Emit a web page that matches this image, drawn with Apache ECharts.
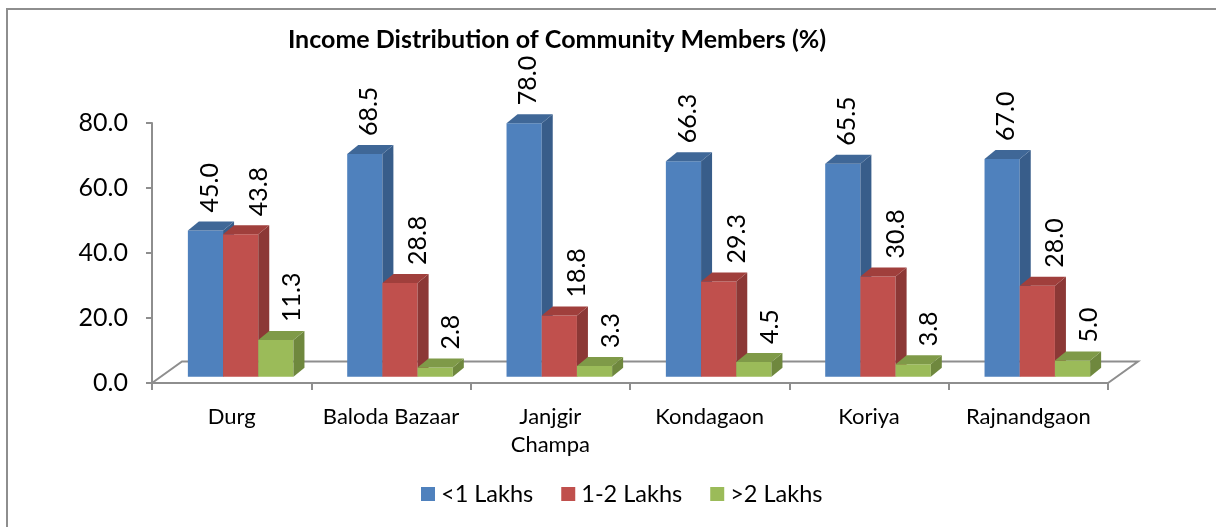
<!DOCTYPE html>
<html>
<head>
<meta charset="utf-8">
<script src="https://cdn.jsdelivr.net/npm/echarts@6/dist/echarts.min.js"></script>
<style>
html,body{margin:0;padding:0;background:#fff;}
#chart{width:1216px;height:527px;}
</style>
</head>
<body>
<div id="chart"></div>
<script>
// ---- data ----
const categories = ['Durg', 'Baloda Bazaar', 'Janjgir\nChampa', 'Kondagaon', 'Koriya', 'Rajnandgaon'];
const seriesNames = ['<1 Lakhs', '1-2 Lakhs', '>2 Lakhs'];
const below1Lakh = [45.0, 68.5, 78.0, 66.3, 65.5, 67.0];
const from1to2Lakh = [43.8, 28.8, 18.8, 29.3, 30.8, 28.0];
const above2Lakh = [11.3, 2.8, 3.3, 4.5, 3.8, 5.0];
const yMin = 0, yMax = 80, yInterval = 20;
const titleText = 'Income Distribution of Community Members (%)';

// ---- style ----
const FONT = 'Lato, "Open Sans", sans-serif';
const AXIS_GRAY = '#8e8e8e';
const palette = [
  {front: '#4F81BD', side: '#385D8A', top: '#3F6797'},
  {front: '#C0504D', side: '#8C3836', top: '#A03F3C'},
  {front: '#9BBB59', side: '#6F883E', top: '#7F9A48'}
];
const labelNudge = [2, 16, 14];
const BAR_W = 35.2, SHIFT_X = 9, SHIFT_Y = 6.3, DEPTH_X = 11, DEPTH_Y = 9;
const FLOOR_DX = 30, FLOOR_DY = 21.5;

const seriesValues = [below1Lakh, from1to2Lakh, above2Lakh];

function makeBarSeries(k) {
  const c = palette[k];
  return {
    name: seriesNames[k],
    type: 'custom',
    coordinateSystem: 'cartesian2d',
    itemStyle: {color: c.front},
    encode: {x: 0, y: 1},
    data: seriesValues[k].map((v, i) => [i, v]),
    z: 3,
    renderItem: function (params, api) {
      const i = api.value(0), v = api.value(1);
      const base = api.coord([i, 0]);
      const topP = api.coord([i, v]);
      const x0 = base[0] + SHIFT_X - 1.5 * BAR_W + k * BAR_W;
      const x1 = x0 + BAR_W;
      const yb = base[1] - SHIFT_Y;
      const yt = topP[1] - SHIFT_Y;
      return {
        type: 'group',
        children: [
          {type: 'polygon', shape: {points: [[x0, yb], [x1, yb], [x1, yt], [x0, yt]]}, style: {fill: c.front}},
          {type: 'polygon', shape: {points: [[x1, yb], [x1 + DEPTH_X, yb - DEPTH_Y], [x1 + DEPTH_X, yt - DEPTH_Y], [x1, yt]]}, style: {fill: c.side}},
          {type: 'polygon', shape: {points: [[x0, yt], [x0 + DEPTH_X, yt - DEPTH_Y], [x1 + DEPTH_X, yt - DEPTH_Y], [x1, yt]]}, style: {fill: c.top}},
          {type: 'text', x: (x0 + x1) / 2 + labelNudge[k] + 2, y: yt - 18, rotation: Math.PI / 2,
            style: {text: v.toFixed(1), fill: '#000', fontSize: 25, fontFamily: FONT, align: 'left', verticalAlign: 'middle'}}
        ]
      };
    }
  };
}

const chart = echarts.init(document.getElementById('chart'), null, {renderer: 'canvas'});
chart.setOption({
  backgroundColor: '#fff',
  animation: false,
  title: {
    text: titleText, left: 552, top: 22, textAlign: 'center',
    textStyle: {fontFamily: FONT, fontWeight: 'bold', fontSize: 25, color: '#000'}
  },
  legend: {
    data: seriesNames.map(n => ({name: n, icon: 'rect'})),
    left: 416, top: 477,
    itemWidth: 14, itemHeight: 14, itemGap: 28,
    textStyle: {fontFamily: FONT, fontSize: 23.5, color: '#000', padding: [0, 0, 0, 1]}
  },
  grid: {left: 152, right: 108, top: 123, bottom: 144, containLabel: false},
  xAxis: {
    type: 'category', data: categories, boundaryGap: true,
    axisLine: {show: true, lineStyle: {color: AXIS_GRAY, width: 2}},
    axisTick: {show: true, length: 7, lineStyle: {color: AXIS_GRAY, width: 2}},
    axisLabel: {fontFamily: FONT, fontSize: 22, color: '#000', margin: 20, lineHeight: 28, interval: 0}
  },
  yAxis: {
    type: 'value', min: yMin, max: yMax, interval: yInterval,
    axisLine: {show: true, lineStyle: {color: AXIS_GRAY, width: 2}},
    axisTick: {show: true, length: 6, lineStyle: {color: AXIS_GRAY, width: 2}},
    splitLine: {show: false},
    axisLabel: {fontFamily: FONT, fontSize: 25, color: '#000', margin: 24, formatter: v => v.toFixed(1)}
  },
  graphic: [{
    type: 'rect', shape: {x: 7, y: 9, width: 1300, height: 700},
    style: {fill: null, stroke: AXIS_GRAY, lineWidth: 2}, silent: true
  }],
  series: [
    {
      name: 'floor', type: 'custom', coordinateSystem: 'cartesian2d', silent: true, z: 1,
      data: [[0, 0]], encode: {x: 0, y: 1},
      renderItem: function (params, api) {
        const cs = params.coordSys;
        const yf = cs.y + cs.height;
        return {
          type: 'polyline',
          shape: {points: [[cs.x, yf], [cs.x + FLOOR_DX, yf - FLOOR_DY], [cs.x + cs.width + FLOOR_DX, yf - FLOOR_DY], [cs.x + cs.width, yf]]},
          style: {stroke: AXIS_GRAY, lineWidth: 2, fill: null}
        };
      }
    },
    makeBarSeries(0), makeBarSeries(1), makeBarSeries(2)
  ]
});
</script>
</body>
</html>
